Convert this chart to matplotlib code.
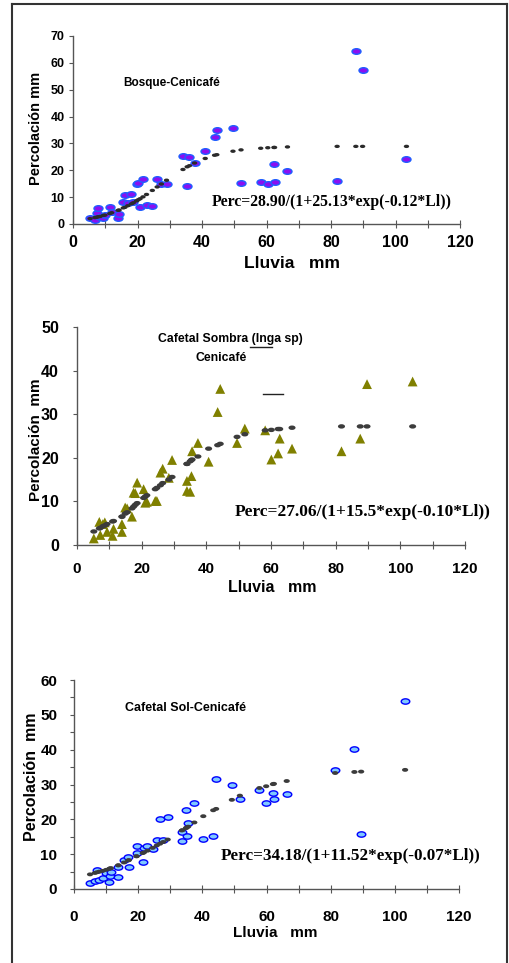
import matplotlib
matplotlib.use("Agg")
import matplotlib.pyplot as plt
from matplotlib.path import Path
from matplotlib.transforms import Affine2D
from matplotlib.lines import Line2D

# ---- data (Lluvia mm, Percolación mm) ----
# Bosque-Cenicafé
bosque_lluvia = [5.3, 6.8, 7.3, 7.8, 8.4, 9.4, 9.9, 11.4, 12.0, 14.0, 14.3, 15.6,
                 16.1, 17.0, 18.1, 18.7, 19.7, 20.2, 20.8, 21.7, 22.8, 24.6, 26.1,
                 27.4, 29.0, 34.1, 35.4, 36.1, 37.7, 41.0, 43.9, 44.6, 49.6, 52.1,
                 58.2, 60.4, 62.3, 62.5, 66.5, 81.9, 87.7, 89.8, 103.4]
bosque_obs = [2.1, 1.5, 4.0, 5.8, 2.7, 2.1, 3.3, 6.2, 4.6, 2.1, 3.7, 8.3,
              10.8, 7.7, 11.0, 8.3, 14.9, 15.1, 6.5, 16.6, 7.1, 6.7, 16.6,
              14.8, 14.9, 25.3, 14.3, 25.1, 22.6, 27.2, 32.5, 35.0, 35.6, 15.1,
              15.8, 14.8, 22.2, 15.8, 19.7, 16.1, 64.4, 57.3, 24.2]
bosque_pred = [2.0, 2.4, 2.5, 2.7, 2.8, 3.2, 3.3, 3.9, 4.2, 5.1, 5.2, 6.0,
               6.2, 6.8, 7.5, 7.9, 8.6, 9.0, 9.4, 10.1, 11.0, 12.5, 13.8,
               14.9, 16.3, 20.3, 21.3, 21.7, 22.7, 24.4, 25.6, 25.8, 27.1, 27.6,
               28.2, 28.4, 28.5, 28.5, 28.7, 28.9, 28.9, 28.9, 28.9]

# Cafetal Sombra (Inga sp) Cenicafé
sombra_lluvia = [5.2, 6.9, 7.2, 8.0, 8.6, 9.3, 11.0, 11.3, 13.9, 13.9, 14.9, 15.5,
                 17.0, 17.5, 18.0, 18.6, 20.6, 21.1, 21.6, 24.2, 24.7, 25.8, 26.5,
                 28.4, 29.4, 34.0, 34.0, 35.0, 35.4, 35.6, 37.4, 40.7, 43.5, 44.3,
                 49.5, 51.9, 58.2, 60.1, 62.2, 62.7, 66.5, 81.8, 87.6, 89.7, 103.8]
sombra_obs = [1.5, 5.3, 2.3, 4.8, 5.2, 3.0, 2.1, 3.7, 3.0, 4.8, 8.6, 8.4,
              6.5, 12.0, 11.9, 14.3, 12.8, 9.7, 9.9, 10.1, 10.1, 16.6, 17.5,
              15.4, 19.5, 14.7, 12.4, 12.2, 15.8, 21.5, 23.4, 19.1, 30.5, 35.8,
              23.4, 26.7, 26.3, 19.6, 21.0, 24.4, 22.1, 21.5, 24.4, 36.9, 37.5]
sombra_pred = [3.1, 3.8, 3.9, 4.3, 4.5, 4.8, 5.4, 5.5, 6.5, 6.5, 7.2, 7.5,
               8.4, 8.8, 9.2, 9.6, 10.8, 11.1, 11.4, 12.8, 13.1, 13.7, 14.2,
               15.0, 15.6, 18.6, 18.6, 19.2, 19.5, 19.6, 20.3, 22.1, 22.9, 23.2,
               24.8, 25.4, 26.3, 26.4, 26.6, 26.6, 26.9, 27.2, 27.2, 27.2, 27.2]

# Cafetal Sol-Cenicafé
sol_lluvia = [5.0, 6.5, 7.1, 7.9, 8.9, 10.0, 11.0, 11.2, 11.5, 13.8, 13.8, 15.6,
              16.9, 17.1, 19.5, 19.5, 21.4, 21.8, 22.9, 24.5, 25.8, 26.8, 27.8,
              29.2, 33.6, 33.8, 34.9, 35.1, 35.6, 37.5, 40.3, 43.4, 44.3, 49.2,
              51.7, 57.8, 59.9, 62.0, 62.3, 66.3, 81.4, 87.4, 89.5, 103.2]
sol_obs = [1.6, 2.4, 5.5, 2.6, 3.1, 4.5, 2.1, 3.7, 5.0, 3.5, 6.4, 8.3,
           9.3, 6.4, 12.4, 10.4, 7.8, 11.7, 12.4, 11.4, 14.1, 20.0, 14.1,
           20.8, 16.5, 13.8, 22.7, 15.3, 19.0, 24.6, 14.3, 15.3, 31.5, 29.9,
           25.7, 28.4, 24.6, 27.7, 25.7, 27.3, 34.2, 40.3, 15.8, 54.1]
sol_pred = [4.2, 4.6, 4.8, 5.0, 5.2, 5.5, 5.8, 5.9, 6.0, 6.8, 6.8, 7.6,
            8.2, 8.3, 9.4, 9.4, 10.3, 10.5, 11.0, 11.8, 12.5, 13.0, 13.5,
            14.2, 16.8, 16.9, 17.5, 17.6, 17.9, 19.1, 20.9, 22.6, 23.0, 25.6,
            26.8, 29.0, 29.5, 30.1, 30.2, 31.0, 33.3, 33.6, 33.7, 34.2]

x_ticks = list(range(0, 121, 10))
x_ticklabels = [str(v) if v % 20 == 0 else "" for v in x_ticks]

W, H = 509, 963
fig = plt.figure(figsize=(W / 100, H / 100), dpi=100)

SANS = "Liberation Sans"
SERIF = "Liberation Serif"

# wide ellipse marker
ellipse = Path.unit_circle().transformed(Affine2D().scale(1.6, 1.0))


def px_axes(left, top, right, bottom):
    return fig.add_axes([left / W, 1 - bottom / H, (right - left) / W, (bottom - top) / H])


def ftext(x, y, s, **kw):
    fig.text(x / W, 1 - y / H, s, **kw)


def style_axes(ax, ymax, ystep, ylabel_every, ysize, xsize, ypad, xpad):
    ax.set_xlim(0, 120)
    ax.set_ylim(0, ymax)
    for s in ("top", "right"):
        ax.spines[s].set_visible(False)
    for s in ("left", "bottom"):
        ax.spines[s].set_color("#555555")
        ax.spines[s].set_linewidth(1.0)
    ax.set_xticks(x_ticks)
    ax.set_xticklabels(x_ticklabels)
    yt = list(range(0, ymax + 1, ystep))
    ax.set_yticks(yt)
    ax.set_yticklabels([str(v) if v % ylabel_every == 0 else "" for v in yt])
    ax.tick_params(axis="x", direction="inout", length=6, width=0.8, color="#555555",
                   pad=xpad, labelsize=xsize)
    ax.tick_params(axis="y", direction="out", length=3, width=0.8, color="#555555",
                   pad=ypad, labelsize=ysize)
    for lab in ax.get_xticklabels() + ax.get_yticklabels():
        lab.set_fontfamily(SANS)
        lab.set_fontweight("bold")
    ax.patch.set_alpha(0)


# ---- panel 1: Bosque ----
ax1 = px_axes(73, 36, 460, 224)
ax1.scatter(bosque_lluvia, bosque_obs, marker=ellipse, s=42, c="#8a0ff0",
            edgecolors="#1f5fff", linewidths=1.0, zorder=3, clip_on=False)
ax1.scatter(bosque_lluvia, bosque_pred, marker=ellipse, s=15, c="#2b2b2b",
            edgecolors="none", zorder=4, clip_on=False)
style_axes(ax1, 70, 10, 10, 9, 11.5, 3, 5)
ftext(36, 128, "Percolación mm", rotation=90, ha="center", va="center",
      fontsize=10.5, fontweight="bold", family=SANS)
ftext(292, 263, "Lluvia   mm", ha="center", va="center", fontsize=12.5,
      fontweight="bold", family=SANS)
ftext(123, 83, "Bosque-Cenicafé", ha="left", va="center", fontsize=8.5,
      fontweight="bold", family=SANS)
ftext(212, 202, "Perc=28.90/(1+25.13*exp(-0.12*Ll))", ha="left", va="center",
      fontsize=11.3, fontweight="bold", family=SERIF)

# ---- panel 2: Cafetal Sombra ----
ax2 = px_axes(77, 327, 465, 545)
ax2.scatter(sombra_lluvia, sombra_obs, marker="^", s=50, c="#808000",
            edgecolors="none", zorder=3)
ax2.scatter(sombra_lluvia, sombra_pred, marker=ellipse, s=26, c="#3c3c3c",
            edgecolors="none", zorder=4)
style_axes(ax2, 50, 10, 10, 11.5, 11, 10, 9)
ftext(36, 440, "Percolación  mm", rotation=90, ha="center", va="center",
      fontsize=11, fontweight="bold", family=SANS)
ftext(272, 588, "Lluvia   mm", ha="center", va="center", fontsize=11.5,
      fontweight="bold", family=SANS)
ftext(158, 339, "Cafetal Sombra (Inga sp)", ha="left", va="center", fontsize=8.8,
      fontweight="bold", family=SANS)
ftext(196, 358, "Cenicafé", ha="left", va="center", fontsize=8.8,
      fontweight="bold", family=SANS)
ftext(235, 512, "Perc=27.06/(1+15.5*exp(-0.10*Ll))", ha="left", va="center",
      fontsize=12.5, fontweight="bold", family=SERIF)
# stray short strokes in the original panel
for (xa, xb, yy) in [(250, 272, 347), (263, 283, 394)]:
    fig.add_artist(Line2D([xa / W, xb / W], [1 - yy / H, 1 - yy / H],
                          color="#222222", linewidth=1.0))

# ---- panel 3: Cafetal Sol ----
ax3 = px_axes(74, 680, 459, 889)
ax3.scatter(sol_lluvia, sol_obs, marker=ellipse, s=38, c="#7fc8ff",
            edgecolors="#0000ff", linewidths=1.0, zorder=3, clip_on=False)
ax3.scatter(sol_lluvia, sol_pred, marker=ellipse, s=20, c="#3c3c3c",
            edgecolors="none", zorder=4)
style_axes(ax3, 60, 5, 10, 11, 11, 9, 12)
ftext(32, 777, "Percolación  mm", rotation=90, ha="center", va="center",
      fontsize=11.5, fontweight="bold", family=SANS)
ftext(275, 933, "Lluvia   mm", ha="center", va="center", fontsize=11,
      fontweight="bold", family=SANS)
ftext(125, 708, "Cafetal Sol-Cenicafé", ha="left", va="center", fontsize=9,
      fontweight="bold", family=SANS)
ftext(221, 856, "Perc=34.18/(1+11.52*exp(-0.07*Ll))", ha="left", va="center",
      fontsize=12.3, fontweight="bold", family=SERIF)

# ---- outer frame (open at the bottom) ----
frame = dict(color="#333333", linewidth=1.5)
fig.add_artist(Line2D([12 / W, 12 / W], [0, 1 - 4 / H], **frame))
fig.add_artist(Line2D([12 / W, 507 / W], [1 - 4 / H, 1 - 4 / H], **frame))
fig.add_artist(Line2D([507 / W, 507 / W], [0, 1 - 4 / H], **frame))

fig.savefig("out.png", dpi=100)
